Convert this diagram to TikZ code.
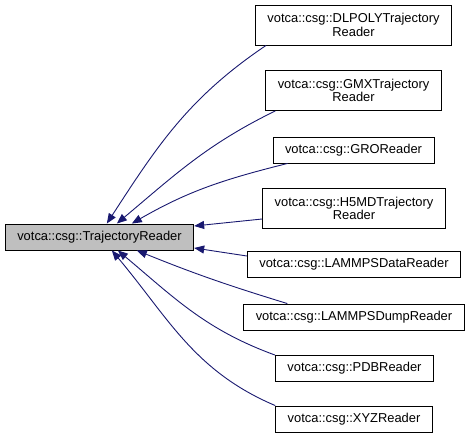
\documentclass[tikz,border=0pt]{standalone}
\usepackage{fontspec}
\setmainfont{Liberation Sans}
\usetikzlibrary{arrows.meta}
\definecolor{edgeblue}{RGB}{25,25,112}
\definecolor{basegray}{RGB}{191,191,191}
\tikzset{
  cls/.style={draw=black,line width=0.9pt,fill=white,align=center,
    font=\fontsize{12.9}{13.6}\selectfont,inner xsep=12pt,inner ysep=3pt,
    minimum height=26pt},
  cls2/.style={cls,minimum height=40pt},
  inh/.style={draw=edgeblue,line width=0.9pt,
    -{Triangle[length=10pt,width=8pt]}},
}
\begin{document}
\begin{tikzpicture}[x=1pt,y=-1pt]%
\useasboundingbox (0,0) rectangle (471,438);
% base class
\node[cls,fill=basegray] (base) at (99.5,237) {votca::csg::TrajectoryReader};
% derived readers
\node[cls2] (dlpoly) at (353.5,25) {votca::csg::DLPOLYTrajectory\\Reader};
\node[cls2] (gmx) at (353.5,90.5) {votca::csg::GMXTrajectory\\Reader};
\node[cls] (gro) at (353.5,150) {votca::csg::GROReader};
\node[cls2] (h5md) at (354,208.5) {votca::csg::H5MDTrajectory\\Reader};
\node[cls] (lmpdata) at (354,264.5) {votca::csg::LAMMPSDataReader};
\node[cls] (lmpdump) at (354,317) {votca::csg::LAMMPSDumpReader};
\node[cls] (pdb) at (354.5,368.5) {votca::csg::PDBReader};
\node[cls] (xyz) at (354,419) {votca::csg::XYZReader};
% inheritance edges
\draw[inh] ([xshift=11pt]dlpoly.south west) to[out=214,in=57]
  ([xshift=102pt]base.north west);
\draw[inh] ([xshift=10pt]gmx.south west) to[out=206,in=40]
  ([xshift=112pt]base.north west);
\draw[inh] ([xshift=15pt]gro.south west) to[out=194,in=30]
  ([xshift=127pt]base.north west);
\draw[inh] ([yshift=-10.5pt]h5md.west) -- ([yshift=11pt]base.east);
\draw[inh] ([yshift=8.5pt]lmpdata.west) -- ([yshift=-11pt]base.east);
\draw[inh] ([xshift=44pt]lmpdump.north west) to[out=163,in=-22]
  ([xshift=132pt]base.south west);
\draw[inh] (pdb.north west) to[out=160,in=-40]
  ([xshift=113pt]base.south west);
\draw[inh] (xyz.north west) to[out=157,in=-50]
  ([xshift=107pt]base.south west);
\end{tikzpicture}
\end{document}
